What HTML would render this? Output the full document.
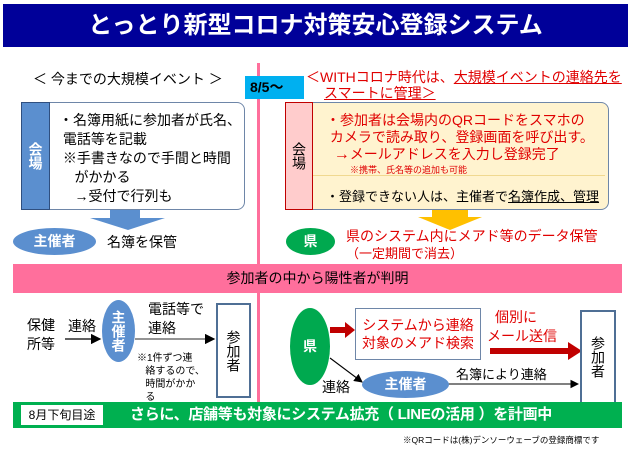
<!DOCTYPE html>
<html><head><meta charset="utf-8"><style>
body{margin:0;width:638px;height:453px;background:#fff;position:relative;overflow:hidden;font-family:"Liberation Sans","Noto Sans CJK JP",sans-serif;}
.a{position:absolute;white-space:nowrap;}
.v{writing-mode:vertical-rl;}
</style></head><body>
<div class="a" style="left:3px;top:4px;width:625px;height:43px;background:#000099;color:#fff;font-size:24px;font-weight:bold;text-align:center;line-height:43px;">とっとり新型コロナ対策安心登録システム</div>
<div class="a" style="left:33px;top:69px;font-size:14px;">＜ 今までの大規模イベント ＞</div>
<div class="a" style="left:257px;top:63px;width:3px;height:357px;background:#ff6f9c;"></div>
<div class="a" style="left:245px;top:76px;width:59px;height:23px;background:#00b0f0;font-size:14px;font-weight:bold;line-height:23px;text-indent:5px;">8/5～</div>
<div class="a" style="left:306px;top:69px;font-size:14px;color:#e00000;line-height:16px;">＜WITHコロナ時代は、<u>大規模イベントの連絡先を</u><br><span style="margin-left:18px"><u>スマートに管理＞</u></span></div>

<div class="a" style="left:21px;top:102px;width:222px;height:106px;border:1.5px solid #6e86a8;border-radius:8px;background:#fff;"></div>
<div class="a" style="left:21px;top:102px;width:27px;height:106px;border:1.5px solid #2f4f7f;background:#5b8fcf;color:#fff;font-size:14px;font-weight:bold;display:flex;align-items:center;justify-content:center;"><span class="v">会場</span></div>
<div class="a" style="left:59px;top:111px;font-size:14px;line-height:19px;">・名簿用紙に参加者が氏名、<br>&nbsp;電話等を記載<br>&nbsp;※手書きなので手間と時間<br>&nbsp;&nbsp;&nbsp;&nbsp;がかかる<br>&nbsp;&nbsp;&nbsp;&nbsp;→受付で行列も</div>
<svg class="a" style="left:90px;top:210px" width="80" height="20"><polygon points="20,0 50,0 50,8 75,8 38,20 0,8 20,8" fill="#5b8fcf"/></svg>
<div class="a" style="left:13px;top:228px;width:83px;height:27px;border-radius:50%;background:#5b8fcf;color:#fff;font-weight:bold;font-size:14px;text-align:center;line-height:27px;">主催者</div>
<div class="a" style="left:107px;top:232px;font-size:14px;">名簿を保管</div>

<div class="a" style="left:285px;top:102px;width:322px;height:106px;border:1.5px solid #6e86a8;border-radius:8px;background:#fff3cf;"></div>
<div class="a" style="left:313px;top:175px;width:292px;height:1px;background:#f0d890;"></div>
<div class="a" style="left:285px;top:102px;width:26px;height:106px;border:1.5px solid #c00000;background:#ffcccc;font-size:14px;display:flex;align-items:center;justify-content:center;"><span class="v">会場</span></div>
<div class="a" style="left:326px;top:112px;font-size:14px;color:#e00000;line-height:17px;">・参加者は会場内のQRコードをスマホの<br>&nbsp;カメラで読み取り、登録画面を呼び出す。<br>&nbsp;&nbsp;<b style="font-size:16px">→</b>メールアドレスを入力し登録完了</div>
<div class="a" style="left:350px;top:163px;font-size:9px;color:#e00000;">※携帯、氏名等の追加も可能</div>
<div class="a" style="left:326px;top:186px;font-size:13px;">・登録できない人は、主催者で<u>名簿作成、管理</u></div>
<svg class="a" style="left:418px;top:210px" width="64" height="20"><polygon points="14,0 50,0 50,7 64,7 32,20 0,7 14,7" fill="#ffc000"/></svg>
<div class="a" style="left:286px;top:228px;width:49px;height:27px;border-radius:50%;background:#00a94f;color:#fff;font-weight:bold;font-size:14px;text-align:center;line-height:27px;">県</div>
<div class="a" style="left:346px;top:228px;font-size:14px;color:#e00000;line-height:17px;">県のシステム内にメアド等のデータ保管<br><span style="font-size:13px">（一定期間で消去）</span></div>

<div class="a" style="left:13px;top:264px;width:609px;height:29px;background:#ff6f9c;font-size:14px;text-align:center;line-height:29px;">参加者の中から陽性者が判明</div>

<div class="a" style="left:27px;top:316px;font-size:14px;line-height:19px;">保健<br>所等</div>
<div class="a" style="left:68px;top:316px;font-size:14px;">連絡</div>
<svg class="a" style="left:0;top:0" width="638" height="453">
<defs><marker id="m" markerWidth="8" markerHeight="8" refX="7" refY="4" orient="auto"><path d="M0,0 L8,4 L0,8z" fill="#000"/></marker></defs>
<line x1="65" y1="339" x2="100" y2="339" stroke="#000" stroke-width="1.3" marker-end="url(#m)"/>
<line x1="135" y1="339" x2="214" y2="339" stroke="#555" stroke-width="1.3" marker-end="url(#m)"/>
<line x1="330" y1="358" x2="362" y2="382" stroke="#000" stroke-width="1.1" marker-end="url(#m)"/>
<line x1="448" y1="384" x2="578" y2="384" stroke="#000" stroke-width="1.1" marker-end="url(#m)"/>
<polygon points="330,327 345,327 345,322 355,330 345,338 345,333 330,333" fill="#c00000"/>
<polygon points="490,348 568,348 568,342 582,351 568,360 568,354 490,354" fill="#c00000"/>
</svg>
<div class="a" style="left:102px;top:300px;width:33px;height:62px;border-radius:50%;background:#5b8fcf;color:#fff;font-size:14px;font-weight:bold;display:flex;align-items:center;justify-content:center;"><span class="v">主催者</span></div>
<div class="a" style="left:148px;top:300px;font-size:14px;line-height:19px;">電話等で<br>連絡</div>
<div class="a" style="left:137px;top:352px;font-size:10px;line-height:13px;">※1件ずつ連<br>&nbsp;&nbsp;&nbsp;絡するので、<br>&nbsp;&nbsp;&nbsp;時間がかか<br>&nbsp;&nbsp;&nbsp;る</div>
<div class="a" style="left:216px;top:303px;width:31px;height:91px;border:2px solid #4f6f95;background:#fff;font-size:14px;display:flex;align-items:center;justify-content:center;"><span class="v">参加者</span></div>

<div class="a" style="left:290px;top:308px;width:40px;height:77px;border-radius:50%;background:#00a94f;color:#fff;font-size:14px;font-weight:bold;text-align:center;line-height:77px;">県</div>
<div class="a" style="left:355px;top:308px;width:124px;height:50px;border:1px solid #6e86a8;background:#fff;color:#e00000;font-size:14px;line-height:18px;text-align:center;display:flex;align-items:center;justify-content:center;">システムから連絡<br>対象のメアド検索</div>
<div class="a" style="left:495px;top:308px;font-size:14px;color:#e00000;line-height:19px;">個別に<br><span style="margin-left:-8px">メール送信</span></div>
<div class="a" style="left:580px;top:310px;width:32px;height:90px;border:2px solid #4f6f95;background:#fff;font-size:14px;display:flex;align-items:center;justify-content:center;"><span class="v">参加者</span></div>
<div class="a" style="left:322px;top:377px;font-size:14px;">連絡</div>
<div class="a" style="left:362px;top:371px;width:87px;height:27px;border-radius:50%;background:#5b8fcf;color:#fff;font-size:14px;font-weight:bold;text-align:center;line-height:27px;">主催者</div>
<div class="a" style="left:456px;top:364px;font-size:13px;">名簿により連絡</div>

<div class="a" style="left:13px;top:402px;width:609px;height:26px;background:#00b050;"></div>
<div class="a" style="left:21px;top:405px;width:82px;height:20px;background:#fff;font-size:12px;text-align:center;line-height:20px;">8月下旬目途</div>
<div class="a" style="left:130px;top:404px;font-size:15px;color:#fff;font-weight:bold;line-height:22px;letter-spacing:-0.3px;">さらに、店舗等も対象にシステム拡充（ LINEの活用 ）を計画中</div>
<div class="a" style="left:403px;top:434px;font-size:8.5px;">※QRコードは(株)デンソーウェーブの登録商標です</div>
</body></html>
